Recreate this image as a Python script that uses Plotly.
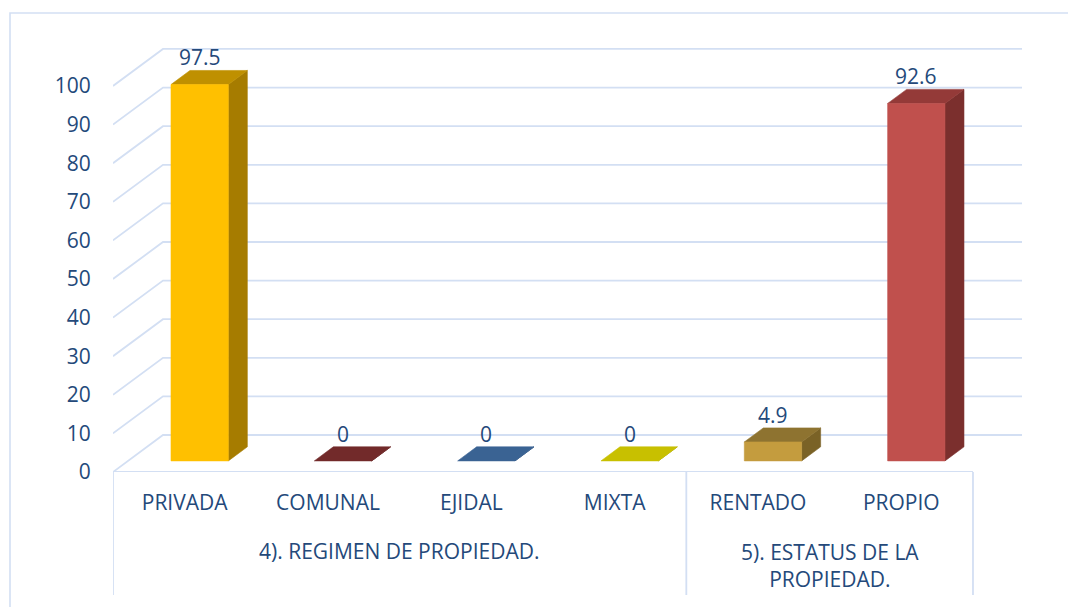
import plotly.graph_objects as go

# ---------------- data ----------------
categories = ["PRIVADA", "COMUNAL", "EJIDAL", "MIXTA", "RENTADO", "PROPIO"]
values = [97.5, 0, 0, 0, 4.9, 92.6]
groups = ["4). REGIMEN DE PROPIEDAD.", "5). ESTATUS DE LA<br>PROPIEDAD."]
group_sizes = [4, 2]
y_ticks = [0, 10, 20, 30, 40, 50, 60, 70, 80, 90, 100]

# ---------------- style ----------------
front_colors = ["#FFC000", "#943634", "#4F81BD", "#E6DC00", "#C49C3E", "#C0504D"]
top_colors = ["#BF9000", "#722A2A", "#3A6393", "#C8C000", "#8E7330", "#943A38"]
side_colors = ["#A67C00", "#5E2222", "#2F5078", "#A8A000", "#7A6226", "#7B2F2D"]
TEXT = "#24497A"
GRID = "#D3DFF3"
FONT = "Open Sans"

# oblique projection (in data units)
DX = 0.3488      # depth offset along category axis
DY = 9.585       # depth offset along value axis
D_FRONT, D_BACK = 0.30, 0.68
BAR_W = 0.40
N = len(categories)
X_MAX = 6.342
Y_MAX = 114.5

fig = go.Figure()

# ---- walls: gridlines (side wall diagonals + back wall horizontals)
gx, gy = [], []
for v in y_ticks:
    gx += [0, DX, N + DX, None]
    gy += [v, v + DY, v + DY, None]
fig.add_trace(go.Scatter(x=gx, y=gy, mode="lines",
                         line=dict(color=GRID, width=1.8),
                         hoverinfo="skip", showlegend=False))
# floor front edge
fig.add_trace(go.Scatter(x=[0, N], y=[0, 0], mode="lines",
                         line=dict(color=GRID, width=1.8),
                         hoverinfo="skip", showlegend=False))


def poly(xs, ys, color):
    fig.add_trace(go.Scatter(x=xs + [xs[0]], y=ys + [ys[0]], mode="lines",
                             fill="toself", fillcolor=color,
                             line=dict(color=color, width=0.6),
                             hoverinfo="skip", showlegend=False))


for i, (cat, v) in enumerate(zip(categories, values)):
    c = i + 0.5
    xl, xr = c - BAR_W / 2, c + BAR_W / 2
    fx, bx = D_FRONT * DX, D_BACK * DX
    fy, by = D_FRONT * DY, D_BACK * DY
    # side face
    poly([xr + fx, xr + bx, xr + bx, xr + fx],
         [fy, by, v + by, v + fy], side_colors[i])
    # top face
    poly([xl + fx, xr + fx, xr + bx, xl + bx],
         [v + fy, v + fy, v + by, v + by], top_colors[i])
    # front face
    if v > 0:
        poly([xl + fx, xr + fx, xr + fx, xl + fx],
             [fy, fy, v + fy, v + fy], front_colors[i])
    # data label
    fig.add_annotation(x=c + fx, y=v + by, text=f"{v:g}", showarrow=False,
                       xanchor="center", yanchor="bottom", yshift=-3,
                       font=dict(family=FONT, size=21, color=TEXT))

# ---- group labels and dividers
PLOT_H = 442.0
start = 0
bounds = [0]
for g, size in zip(groups, group_sizes):
    mid = start + size / 2
    lines = g.count("<br>") + 1
    ypix = 551 + (lines - 1) * 14
    fig.add_annotation(x=mid, y=-(ypix - 472) / PLOT_H, xref="x", yref="paper",
                       text=g, showarrow=False, xanchor="center", yanchor="middle",
                       font=dict(family=FONT, size=21, color=TEXT))
    start += size
    bounds.append(start)

for b in bounds:
    fig.add_shape(type="line", xref="x", yref="paper",
                  x0=b, x1=b, y0=0, y1=-(595 - 472) / PLOT_H,
                  line=dict(color=GRID, width=1.8))

# chart outer border
fig.add_shape(type="rect", xref="paper", yref="paper",
              x0=(10 - 113) / 909.0, x1=1.2, y0=(472 - 13) / PLOT_H, y1=-0.5,
              line=dict(color=GRID, width=1.6), fillcolor="rgba(0,0,0,0)",
              layer="below")

fig.update_layout(
    width=1068, height=607,
    margin=dict(l=113, r=46, t=30, b=135),
    paper_bgcolor="white", plot_bgcolor="white",
    showlegend=False,
    xaxis=dict(range=[0, X_MAX], showgrid=False, zeroline=False, showline=False,
               tickmode="array", tickvals=[i + 0.5 for i in range(N)],
               ticktext=categories, ticks="outside", ticklen=12,
               tickcolor="rgba(0,0,0,0)",
               tickfont=dict(family=FONT, size=21, color=TEXT), fixedrange=True),
    yaxis=dict(range=[0, Y_MAX], showgrid=False, zeroline=False, showline=False,
               tickmode="array", tickvals=y_ticks,
               ticks="outside", ticklen=17, tickcolor="rgba(0,0,0,0)",
               tickfont=dict(family=FONT, size=21, color=TEXT), fixedrange=True),
)

fig.write_html("out.html", config={"displayModeBar": False},
               post_script="document.body.style.margin='0';document.body.style.padding='0';")
